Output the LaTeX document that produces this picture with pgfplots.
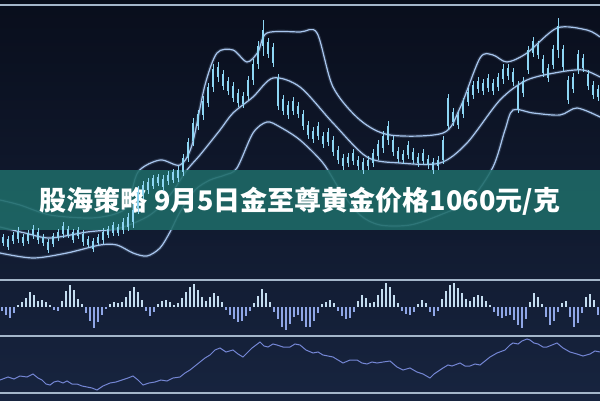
\documentclass[border=0pt]{standalone}
\usepackage{pgfplots}
\pgfplotsset{compat=1.18}
\usepackage{pgfplotstable}
\usepackage{fontspec}
\newfontfamily\cjk{Noto Sans CJK SC}
\definecolor{bgtop}{HTML}{090E1C}
\definecolor{bgbot}{HTML}{17243F}
\definecolor{candle}{HTML}{8DD6F4}
\definecolor{band}{HTML}{A8C6EE}
\definecolor{sep}{HTML}{A4B6CA}
\definecolor{histpos}{HTML}{C4DDF0}
\definecolor{histneg}{HTML}{8FA6E6}
\definecolor{rsi}{HTML}{7486D4}
\definecolor{banner}{HTML}{1E6B68}

\pgfplotstableread{
x c b w
3 240 3 6
8 243 4 7
13 238 3 6
18 235 4 8
23 240 3 6
28 237 4 7
33 232 3 7
38 236 4 8
43 240 3 6
48 246 4 7
53 240 4 7
58 235 3 6
63 230 4 8
68 232 3 6
73 236 4 7
78 233 3 6
83 238 4 8
88 242 3 6
93 245 4 7
98 240 3 6
103 236 4 8
108 232 3 6
113 229 4 7
118 230 3 6
123 226 4 8
128 222 5 9
133 216 6 12
138 200 8 14
143 190 5 9
148 186 4 8
153 182 4 7
158 180 3 6
163 183 4 8
168 178 3 7
173 176 4 7
178 174 4 8
183 165 7 11
188 150 8 12
193 132 9 14
198 120 6 10
203 108 7 12
208 95 8 12
213 78 9 14
218 72 5 10
223 80 6 10
228 86 5 9
233 92 6 10
238 98 5 9
243 100 4 8
248 88 8 12
253 72 8 13
258 55 9 14
263 38 8 18
268 48 6 10
273 55 8 12
278 92 14 18
283 105 6 10
288 110 5 9
293 106 5 9
298 110 4 8
303 120 6 10
308 130 5 9
313 135 4 8
318 131 5 9
323 140 4 8
328 137 5 9
333 146 6 10
338 155 5 9
343 162 4 8
348 160 3 7
353 157 4 8
358 163 3 7
363 166 4 8
368 163 3 7
373 158 5 9
378 150 6 10
383 142 6 11
388 133 7 12
393 146 6 10
398 155 4 8
403 157 3 7
408 150 5 9
413 156 4 8
418 160 3 7
423 157 4 8
428 162 3 7
433 166 4 8
438 163 3 7
443 150 10 14
448 112 14 18
453 117 5 9
458 120 5 9
463 108 6 10
468 97 5 9
473 90 5 9
478 85 4 8
483 87 4 8
488 83 5 9
493 87 4 8
498 82 5 9
503 74 5 10
508 72 4 8
513 77 5 9
518 97 12 16
523 87 6 10
528 60 10 14
533 47 6 10
538 50 5 9
543 66 7 11
548 73 5 9
553 57 8 12
558 38 12 20
563 58 9 13
568 90 10 14
573 83 6 10
578 62 8 12
583 63 5 9
588 80 6 10
593 90 5 9
598 93 4 8
}\candles

\pgfplotstableread{
x h
2 -4
6 -8
10 -11
14 -6
18 2
22 5
26 9
30 15
34 12
38 6
42 7
46 5
50 2
54 -3
58 -4
62 6
66 16
70 22
74 17
78 8
82 3
86 -6
90 -14
94 -21
98 -15
102 -8
106 -2
110 3
114 5
118 4
122 5
126 10
130 16
134 20
138 15
142 7
146 -4
150 -9
154 -5
158 3
162 6
166 7
170 5
174 2
178 4
182 9
186 15
190 20
194 23
198 17
202 10
206 6
210 10
214 14
218 11
222 5
226 -3
230 -8
234 -12
238 -15
242 -14
246 -9
250 -4
254 4
258 11
262 18
266 14
270 5
274 -5
278 -12
282 -20
286 -23
290 -17
294 -10
298 -8
302 -14
306 -20
310 -20
314 -14
318 -6
322 3
326 5
330 7
334 4
338 -4
342 -9
346 -12
350 -11
354 -5
358 6
362 12
366 9
370 4
374 5
378 12
382 18
386 24
390 20
394 12
398 4
402 -4
406 -7
410 -8
414 -5
418 3
422 7
426 4
430 -5
434 -9
438 -4
442 8
446 16
450 22
454 24
458 19
462 14
466 8
470 6
474 10
478 12
482 11
486 6
490 2
494 -5
498 -9
502 -11
506 -9
510 -8
514 -13
518 -18
522 -21
526 -12
530 5
534 14
538 10
542 3
546 -10
550 -18
554 -14
558 -5
562 4
566 6
570 -10
574 -20
578 -16
582 -6
586 10
590 13
594 7
598 -8
}\hist

\pgfplotsset{
  bandglow/.style={band, line width=3.5pt, opacity=0.18, smooth, tension=0.5},
  bandline/.style={band, line width=1.2pt, smooth, tension=0.5},
  vbar/.style n args={3}{scatter, only marks, mark=|,
    mark options={line width=#2, line cap=butt},
    scatter/use mapped color={draw=#1, fill=#1},
    visualization depends on={#3 \as \halflen},
    scatter/@pre marker code/.append style={/tikz/mark size=\halflen}},
}

\begin{document}
\begin{tikzpicture}
\begin{axis}[
  scale only axis, width=600pt, height=400pt,
  xmin=0, xmax=600, ymin=0, ymax=400, y dir=reverse,
  hide axis, clip=true,
]
% background
\addplot[draw=none, top color=bgtop, bottom color=bgbot] coordinates {(0,0) (600,0) (600,400) (0,400)} -- cycle;

% separators
\addplot[sep, line width=1.6pt] coordinates {(0,5) (600,5)};
\addplot[sep, line width=1.6pt] coordinates {(0,280) (600,280)};
\addplot[sep, line width=1.6pt] coordinates {(0,336) (600,336)};
\addplot[sep, line width=1.6pt] coordinates {(0,393) (600,393)};

% bands (glow)
\addplot[bandglow] coordinates {(0,200) (20,205) (50,215) (90,218) (115,214) (128,205) (138,172) (160,160) (180,165) (192,145) (205,85) (217,53) (233,50) (247,62) (258,52) (267,33) (300,32) (317,33) (333,87) (360,120) (390,135) (443,133) (460,108) (480,58) (493,55) (507,62) (527,53) (557,28) (587,30) (600,37)};
\addplot[bandglow] coordinates {(0,227) (25,233) (50,238) (87,232) (120,228) (150,215) (170,195) (187,170) (200,155) (220,130) (233,113) (253,97) (273,78) (300,87) (333,123) (367,157) (400,163) (440,163) (467,143) (500,100) (527,80) (560,72) (583,70) (600,77)};
\addplot[bandglow] coordinates {(0,253) (33,258) (67,253) (100,245) (117,245) (133,253) (147,256) (160,248) (170,232) (180,212) (195,190) (210,180) (225,175) (237,168) (253,133) (267,122) (280,127) (300,140) (323,163) (340,190) (360,215) (380,225) (410,225) (440,215) (470,200) (493,167) (505,130) (513,110) (533,113) (560,115) (577,108) (600,117)};
% bands (line)
\addplot[bandline] coordinates {(0,200) (20,205) (50,215) (90,218) (115,214) (128,205) (138,172) (160,160) (180,165) (192,145) (205,85) (217,53) (233,50) (247,62) (258,52) (267,33) (300,32) (317,33) (333,87) (360,120) (390,135) (443,133) (460,108) (480,58) (493,55) (507,62) (527,53) (557,28) (587,30) (600,37)};
\addplot[bandline] coordinates {(0,227) (25,233) (50,238) (87,232) (120,228) (150,215) (170,195) (187,170) (200,155) (220,130) (233,113) (253,97) (273,78) (300,87) (333,123) (367,157) (400,163) (440,163) (467,143) (500,100) (527,80) (560,72) (583,70) (600,77)};
\addplot[bandline] coordinates {(0,253) (33,258) (67,253) (100,245) (117,245) (133,253) (147,256) (160,248) (170,232) (180,212) (195,190) (210,180) (225,175) (237,168) (253,133) (267,122) (280,127) (300,140) (323,163) (340,190) (360,215) (380,225) (410,225) (440,215) (470,200) (493,167) (505,130) (513,110) (533,113) (560,115) (577,108) (600,117)};

% candles: wicks and bodies
\addplot[vbar={candle}{0.7pt}{\thisrow{w}}] table[x=x, y=c] {\candles};
\addplot[vbar={candle}{2pt}{\thisrow{b}}] table[x=x, y=c] {\candles};

% histogram
\addplot[vbar={histpos}{1.3pt}{abs(\thisrow{h})/2}, restrict expr to domain={\thisrow{h}}{0:100}]
  table[x=x, y expr=307-\thisrow{h}/2] {\hist};
\addplot[vbar={histneg}{1.3pt}{abs(\thisrow{h})/2}, restrict expr to domain={\thisrow{h}}{-100:-0.5}]
  table[x=x, y expr=307-\thisrow{h}/2] {\hist};

% lower line
\addplot[rsi, line width=1pt] coordinates {(0,380) (8,377) (14,379) (20,376) (27,377) (33,374) (38,378) (42,380) (46,384) (50,385) (54,382) (58,381) (63,383) (67,381) (72,384) (77,384) (82,386) (87,387) (92,388) (97,390) (103,386) (110,383) (116,382) (122,380) (128,378) (133,376) (138,380) (143,385) (149,383) (155,382) (161,380) (167,381) (173,378) (180,377) (185,373) (190,370) (195,366) (200,362) (205,358) (210,355) (215,350) (220,348) (226,352) (233,350) (238,354) (243,357) (248,352) (252,348) (256,345) (260,342) (264,346) (268,347) (273,344) (277,345) (283,347) (290,347) (295,344) (300,345) (306,350) (313,353) (318,352) (323,355) (328,356) (333,357) (338,360) (343,363) (350,360) (357,360) (362,363) (367,364) (372,362) (377,363) (383,362) (390,361) (397,367) (403,370) (410,368) (417,372) (423,374) (430,378) (434,374) (437,372) (443,368) (448,365) (452,366) (460,363) (465,366) (470,366) (475,364) (480,365) (485,361) (490,357) (497,353) (505,350) (510,345) (513,343) (518,344) (522,341) (527,339) (530,340) (534,343) (538,344) (543,347) (547,347) (552,345) (557,343) (563,348) (570,352) (577,354) (583,356) (590,354) (595,351) (600,352)};

% banner
\addplot[draw=none, fill=banner, fill opacity=0.88] coordinates {(0,170) (600,170) (600,230) (0,230)} -- cycle;
\node[text=white, font=\cjk\bfseries\fontsize{27}{30}\selectfont, anchor=center, inner sep=0pt] at (axis cs:300,201) {股海策略 9月5日金至尊黄金价格1060元/克};
\end{axis}
\end{tikzpicture}
\end{document}
